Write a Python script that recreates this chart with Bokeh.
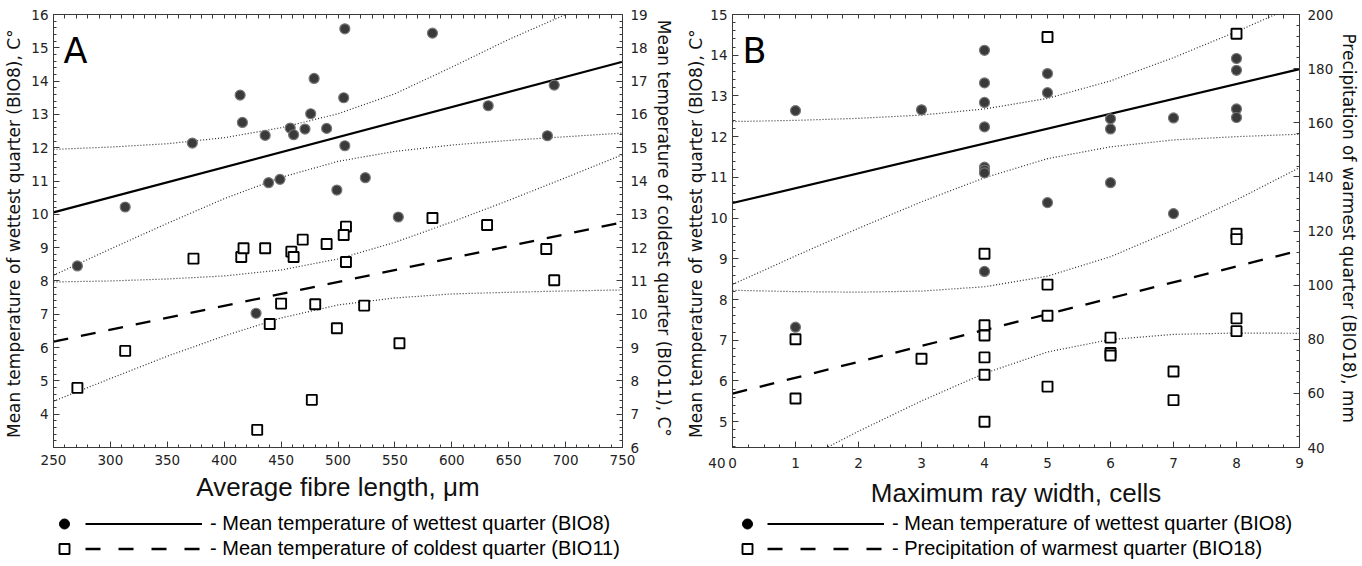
import numpy as np
from bokeh.plotting import figure
from bokeh.models import (Range1d, LinearAxis, SingleIntervalTicker, FixedTicker,
                          Legend, LegendItem, Label, CustomJSTickFormatter)
from bokeh.core.properties import value
from bokeh.layouts import row, column
from bokeh.embed import file_html
from bokeh.resources import INLINE

# ---------------- Panel A data ----------------
a8_len = [271, 313, 372, 414, 416, 436, 439, 449, 458, 461, 471, 476, 479, 490, 499,
          505, 506, 506, 524, 553, 583, 632, 684, 690, 428]
a8_val = [8.45, 10.22, 12.14, 13.58, 12.76, 12.37, 10.95, 11.05, 12.59, 12.39, 12.56,
          13.02, 14.08, 12.58, 10.73, 13.50, 15.57, 12.06, 11.10, 9.92, 15.44, 13.26,
          12.36, 13.88, 7.03]
a11_len = [271, 313, 373, 415, 417, 436, 459, 461, 469, 490, 450, 480, 440, 429, 477,
           499, 583, 631, 507, 505, 683, 690, 507, 523, 554]
a11_val = [7.79, 8.90, 11.67, 11.72, 11.98, 11.98, 11.88, 11.72, 12.24, 12.11, 10.32,
           10.30, 9.71, 6.53, 7.43, 9.58, 12.89, 12.68, 12.63, 12.38, 11.96, 11.02,
           11.57, 10.26, 9.13]
a_fit_x = [250, 750]
a8_fit = [10.06, 14.58]
a11_fit = [9.18, 12.76]
a_band_x = [250, 300, 350, 400, 450, 500, 550, 600, 650, 700, 750]
a8_hi = [11.95, 12.02, 12.12, 12.30, 12.60, 13.02, 13.62, 14.42, 15.25, 16.00, 16.75]
a8_lo = [8.17, 8.96, 9.73, 10.47, 11.11, 11.59, 11.89, 12.08, 12.22, 12.33, 12.44]
a11_hi = [10.97, 11.00, 11.06, 11.15, 11.33, 11.66, 12.16, 12.77, 13.42, 14.10, 14.79]
a11_lo = [7.39, 8.07, 8.74, 9.35, 9.89, 10.28, 10.49, 10.61, 10.66, 10.70, 10.73]

# ---------------- Panel B data ----------------
b8_cells = [1, 3, 4, 4, 4, 4, 4, 4, 4, 5, 5, 5, 6, 6, 6, 7, 7, 8, 8, 8, 8, 4, 1]
b8_val = [12.64, 12.66, 14.12, 13.32, 12.84, 12.24, 11.25, 11.18, 11.11, 13.55, 13.08,
          10.38, 12.44, 12.19, 10.87, 12.46, 10.11, 13.92, 13.63, 12.68, 12.47, 8.69, 7.32]
b18_cells = [5, 8, 8, 8, 4, 1, 1, 3, 4, 4, 4, 4, 4, 5, 5, 5, 6, 6, 6, 7, 7, 8, 8]
b18_val = [191.7, 192.9, 119.0, 117.0, 111.6, 80.0, 58.1, 72.8, 85.2, 81.4, 73.3, 66.9,
           49.5, 100.2, 88.7, 62.5, 80.6, 74.9, 74.0, 68.1, 57.5, 87.7, 83.0]
b_fit_x = [0, 9]
b8_fit = [10.37, 13.66]
b18_fit = [59.9, 112.8]
b_band_x = [0, 1, 2, 3, 4, 5, 6, 7, 8, 9]
b8_hi = [12.37, 12.40, 12.45, 12.53, 12.68, 12.94, 13.37, 13.94, 14.58, 15.26]
b8_lo = [8.37, 9.07, 9.75, 10.40, 10.99, 11.46, 11.75, 11.92, 12.00, 12.06]
b18_hi = [98.1, 97.6, 97.4, 97.8, 99.4, 103.3, 110.5, 120.4, 131.5, 143.4]
b18_lo = [21.7, 34.0, 46.0, 57.2, 67.4, 75.3, 79.9, 81.8, 82.3, 82.2]

# ---------------- Text ----------------
a_xlabel = "Average fibre length, μm"
a_ylabel_left = "Mean temperature of wettest quarter (BIO8),  C°"
a_ylabel_right = "Mean temperature of coldest quarter (BIO11),  C°"
b_xlabel = "Maximum ray width, cells"
b_ylabel_left = "Mean temperature of wettest quarter (BIO8),  C°"
b_ylabel_right = "Precipitation of warmest quarter (BIO18),  mm"
leg_bio8 = "- Mean temperature of wettest quarter (BIO8)"
leg_bio11 = "- Mean temperature of coldest quarter (BIO11)"
leg_bio18 = "- Precipitation of warmest quarter (BIO18)"
# the reference shows a stray "40" just left of the "0" tick of panel B
b_zero_label = "40\u20090\u2007\u2007\u2009"

TICK_FONT = "DejaVu Sans"
TITLE_FONT = "DejaVu Sans"
X_FONT = "Liberation Sans"
AX = "#3a3a3a"

CIRCLE = dict(marker="circle", size=10, fill_color="#3a3a3a", line_color="#777777",
              line_width=1.2)
SQUARE = dict(marker="square", size=10, fill_color="white", line_color="black",
              line_width=1.9)
SOLID = dict(line_color="black", line_width=2.2)
DASHED = dict(line_color="black", line_width=2.3, line_dash="15 13")
DOTTED = dict(line_color="#2a2a2a", line_width=1.2, line_dash="1 2")
LEG_CIRCLE = dict(marker="circle", size=10, fill_color="black", line_color="black",
                  line_width=1)
LEG_DASHED = dict(line_color="black", line_width=2.3, line_dash="15 18")


def style_axis(ax):
    ax.axis_line_color = AX
    ax.axis_line_width = 1
    ax.major_tick_in = 6
    ax.major_tick_out = 0
    ax.minor_tick_in = 3
    ax.minor_tick_out = 0
    ax.major_tick_line_color = AX
    ax.minor_tick_line_color = AX
    ax.major_label_text_font = TICK_FONT
    ax.major_label_text_font_size = "13.5px"
    ax.major_label_text_color = "#222222"
    ax.axis_label_text_font_style = "normal"
    ax.axis_label_text_color = "#111111"


def make_panel(x_range, y_range, r_range, xt, top_minor, yt, rt, xlabel, ylab_l, ylab_r,
               border_l, border_r, left_title_standoff):
    p = figure(width=681, height=510, x_range=x_range, y_range=y_range,
               output_backend="svg", toolbar_location=None,
               min_border_left=border_l, min_border_right=border_r,
               min_border_top=14, min_border_bottom=60)
    p.extra_y_ranges = {"r": r_range}
    p.xgrid.visible = False
    p.ygrid.visible = False
    p.outline_line_color = AX
    p.background_fill_color = "white"
    p.border_fill_color = "white"

    xa = p.below[0]
    xa.ticker = xt
    style_axis(xa)
    xa.axis_label = xlabel
    xa.axis_label_text_font = X_FONT
    xa.axis_label_text_font_size = "26px"
    xa.major_label_standoff = 7
    xa.axis_label_standoff = 4

    ya = p.left[0]
    ya.ticker = yt
    style_axis(ya)
    ya.axis_label = ylab_l
    ya.axis_label_text_font = TITLE_FONT
    ya.axis_label_text_font_size = "17px"
    ya.major_label_standoff = 5
    ya.axis_label_standoff = left_title_standoff

    ra = LinearAxis(y_range_name="r", ticker=rt, axis_label=ylab_r)
    style_axis(ra)
    ra.axis_label_text_font = TITLE_FONT
    ra.axis_label_text_font_size = "17px"
    ra.major_label_standoff = 8
    ra.axis_label_standoff = 3
    p.add_layout(ra, "right")

    # top edge: tick marks only (no labels)
    ta = LinearAxis(ticker=FixedTicker(ticks=[], minor_ticks=top_minor))
    style_axis(ta)
    ta.minor_tick_in = 4
    p.add_layout(ta, "above")
    return p


def add_series(p, x1, y1, x2, y2, fx, f1, f2, bx, h1, l1, h2, l2):
    p.line(bx, h1, **DOTTED)
    p.line(bx, l1, **DOTTED)
    p.line(bx, h2, y_range_name="r", **DOTTED)
    p.line(bx, l2, y_range_name="r", **DOTTED)
    p.line(fx, f1, **SOLID)
    p.line(fx, f2, y_range_name="r", **DASHED)
    p.scatter(x2, y2, y_range_name="r", **SQUARE)
    p.scatter(x1, y1, **CIRCLE)


def legend_strip(x1, y1, x2, y2, fx, f1, f2, lab1, lab2, mx, lx):
    lf = figure(width=681, height=56, x_range=Range1d(0, 1), y_range=Range1d(0, 1),
                output_backend="svg", toolbar_location=None, min_border=0,
                x_axis_location=None, y_axis_location=None)
    lf.outline_line_color = None
    lf.grid.visible = False
    ci = lf.scatter(x1, y1, visible=False, **LEG_CIRCLE)
    sq = lf.scatter(x2, y2, visible=False, **SQUARE)
    s1 = lf.line(fx, f1, visible=False, **SOLID)
    s2 = lf.line(fx, f2, visible=False, **LEG_DASHED)
    common = dict(glyph_height=25, label_height=25, spacing=0, padding=0, margin=0,
                  border_line_color=None, background_fill_alpha=0,
                  inactive_fill_alpha=0,
                  label_text_font=X_FONT, label_text_font_size="20px",
                  label_text_color="black")
    lm = Legend(items=[LegendItem(label=value(""), renderers=[ci]),
                       LegendItem(label=value(""), renderers=[sq])],
                location=(mx, 5.5), glyph_width=28, label_width=0,
                label_standoff=0, **common)
    ll = Legend(items=[LegendItem(label=lab1, renderers=[s1]),
                       LegendItem(label=lab2, renderers=[s2])],
                location=(lx, 5.5), glyph_width=117, label_standoff=8, **common)
    lf.add_layout(lm)
    lf.add_layout(ll)
    return lf


# ---------------- Panel A ----------------
pa = make_panel(Range1d(250, 750), Range1d(3, 16), Range1d(6, 19),
                SingleIntervalTicker(interval=50, num_minor_ticks=5),
                list(range(250, 751, 10)),
                FixedTicker(ticks=list(range(4, 17)),
                            minor_ticks=[round(v, 2) for v in np.arange(3, 16.001, 0.2)]),
                SingleIntervalTicker(interval=1, num_minor_ticks=5),
                a_xlabel, a_ylabel_left, a_ylabel_right, 53, 59, 4)
add_series(pa, a8_len, a8_val, a11_len, a11_val, a_fit_x, a8_fit, a11_fit,
           a_band_x, a8_hi, a8_lo, a11_hi, a11_lo)
pa.add_layout(Label(x=10, y=397, x_units="screen", y_units="screen", text="A",
                    text_font=TITLE_FONT, text_font_size="35px", text_color="black",
                    text_baseline="alphabetic"))
la = legend_strip(a8_len, a8_val, a11_len, a11_val, a_fit_x, a8_fit, a11_fit,
                  leg_bio8, leg_bio11, 50, 85)

# ---------------- Panel B ----------------
pb = make_panel(Range1d(0, 9), Range1d(4.366, 15), Range1d(40, 200),
                SingleIntervalTicker(interval=1, num_minor_ticks=4),
                [round(v, 2) for v in np.arange(0, 9.001, 0.25)],
                SingleIntervalTicker(interval=1, num_minor_ticks=5),
                SingleIntervalTicker(interval=20, num_minor_ticks=5),
                b_xlabel, b_ylabel_left, b_ylabel_right, 51, 63, 1)
pb.below[0].formatter = CustomJSTickFormatter(
    args=dict(zero=b_zero_label),
    code="return (Math.abs(tick) < 1e-9) ? zero : String(Math.round(tick));")
add_series(pb, b8_cells, b8_val, b18_cells, b18_val, b_fit_x, b8_fit, b18_fit,
           b_band_x, b8_hi, b8_lo, b18_hi, b18_lo)
pb.add_layout(Label(x=10, y=397, x_units="screen", y_units="screen", text="B",
                    text_font=TITLE_FONT, text_font_size="35px", text_color="black",
                    text_baseline="alphabetic"))
lb = legend_strip(b8_cells, b8_val, b18_cells, b18_val, b_fit_x, b8_fit, b18_fit,
                  leg_bio8, leg_bio18, 52, 86)

layout = column(row(pa, pb), row(la, lb))
open("out.html", "w").write(file_html(layout, INLINE))
